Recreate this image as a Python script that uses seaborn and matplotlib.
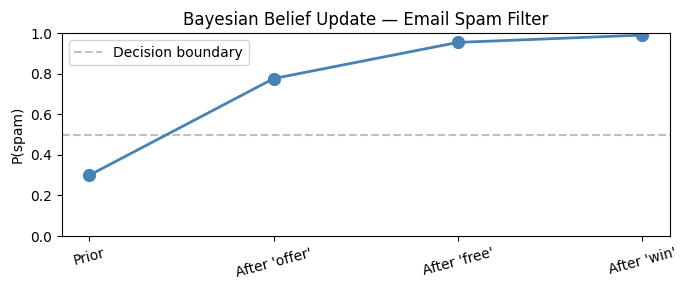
import matplotlib
matplotlib.use("Agg")
import matplotlib.pyplot as plt
import seaborn as sns
import pandas as pd

stages = ["Prior", "After 'offer'", "After 'free'", "After 'win'"]
p_spam = [0.30, 0.776, 0.954, 0.990]

df = pd.DataFrame({"stage": stages, "p": p_spam})

fig, ax = plt.subplots(figsize=(6.87, 2.9), dpi=100)
sns.pointplot(data=df, x="stage", y="p", color="steelblue", ax=ax,
              markersize=8, linewidth=2)
ax.axhline(0.5, color="gray", linestyle="--", alpha=0.5, label="Decision boundary")
ax.set_ylim(0, 1)
ax.set_xlim(-0.15, 3.15)
ax.set_xlabel("")
ax.set_ylabel("P(spam)")
ax.set_title("Bayesian Belief Update — Email Spam Filter")
plt.setp(ax.get_xticklabels(), rotation=15)
ax.legend(loc="upper left")
fig.subplots_adjust(left=0.090, right=0.975, top=0.886, bottom=0.186)
fig.savefig("out.png", dpi=100)
